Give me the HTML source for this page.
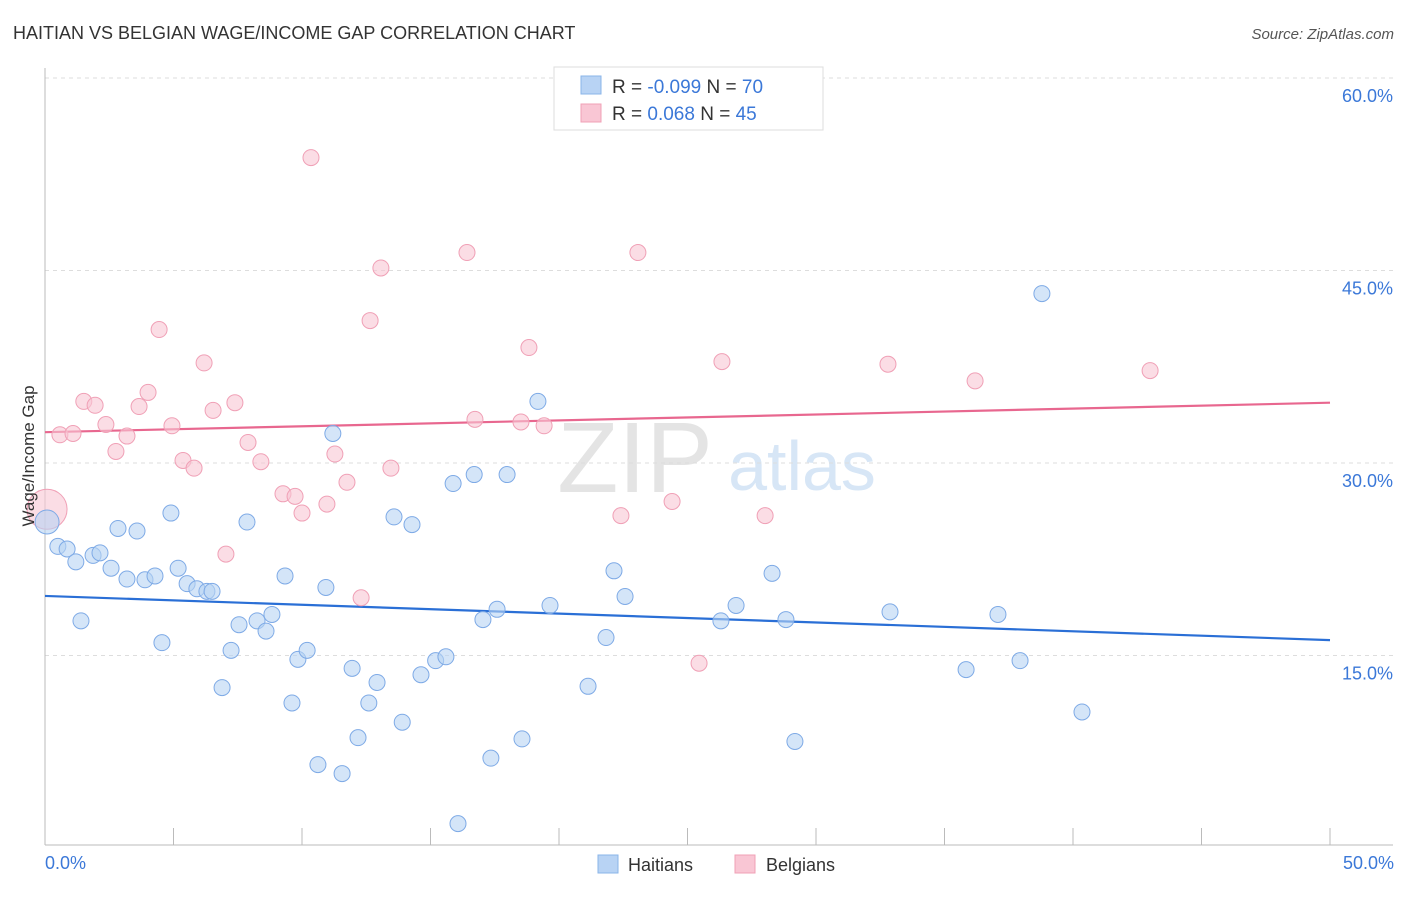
<!DOCTYPE html>
<html><head><meta charset="utf-8"><style>
body{margin:0;background:#fff;font-family:"Liberation Sans",sans-serif;}
svg text{font-family:"Liberation Sans",sans-serif;}
</style></head><body>
<svg id="chart" width="1406" height="892" viewBox="0 0 1406 892" xmlns="http://www.w3.org/2000/svg">
<text x="13" y="39" font-size="18" fill="#333">HAITIAN VS BELGIAN WAGE/INCOME GAP CORRELATION CHART</text>
<text x="1394" y="39" font-size="15" fill="#555" text-anchor="end" font-style="italic">Source: ZipAtlas.com</text>
<g>
<text x="635" y="492" font-size="100" fill="#e4e4e4" text-anchor="middle" font-family="Liberation Serif,serif">ZIP</text>
<text x="802" y="490" font-size="70" fill="#d7e6f6" text-anchor="middle">atlas</text>
</g>
<g id="grid"></g>
<g id="axes"></g>
<g id="trend"></g>
<g id="points"></g>
<text transform="translate(34,456) rotate(-90)" font-size="17" fill="#333" text-anchor="middle">Wage/Income Gap</text>
<text x="45" y="869" font-size="18" fill="#3b78d8">0.0%</text>
<text x="1394" y="869" font-size="18" fill="#3b78d8" text-anchor="end">50.0%</text>
<g>
<rect x="554" y="67" width="269" height="63" fill="#fff" stroke="#ddd"/>
<rect x="581" y="76" width="20" height="18" fill="#b8d3f4" stroke="#8ab4e8"/>
<rect x="581" y="104" width="20" height="18" fill="#f9c6d4" stroke="#f0a0b6"/>
<text x="612" y="93" font-size="19" fill="#333">R = <tspan fill="#3b78d8">-0.099</tspan>   N = <tspan fill="#3b78d8">70</tspan></text>
<text x="612" y="120" font-size="19" fill="#333">R =  <tspan fill="#3b78d8"> 0.068</tspan>   N = <tspan fill="#3b78d8">45</tspan></text>
</g>
<g>
<rect x="598" y="855" width="20" height="18" fill="#b8d3f4" stroke="#8ab4e8"/>
<text x="628" y="871" font-size="18" fill="#333">Haitians</text>
<rect x="735" y="855" width="20" height="18" fill="#f9c6d4" stroke="#f0a0b6"/>
<text x="766" y="871" font-size="18" fill="#333">Belgians</text>
</g>
</svg>
<script>
const yTicks=[15,30,45,60];
const yTickLabels=["15.0%","30.0%","45.0%","60.0%"];
const xTicks=[0,5,10,15,20,25,30,35,40,45,50];
const haitianX=[0.08,0.5,0.86,1.2,1.4,1.87,2.14,2.57,2.84,3.19,3.58,3.89,4.28,4.55,4.9,5.18,5.53,5.91,6.3,6.5,6.89,7.24,7.55,7.86,8.25,8.6,8.83,9.34,9.84,9.61,10.2,10.62,10.93,11.2,11.56,11.95,12.18,12.6,12.92,13.58,13.9,14.28,14.63,15.2,15.6,15.88,16.07,16.7,17.04,17.35,17.59,17.98,18.56,19.18,19.65,21.13,21.83,22.14,22.57,26.3,26.89,28.29,28.83,29.18,32.88,35.84,37.08,37.94,38.79,40.35];
const haitianY=[25.4,23.5,23.3,22.3,17.7,22.8,23.0,21.8,24.9,20.96,24.7,20.9,21.2,16.0,26.1,21.8,20.6,20.2,20.0,20.0,12.5,15.4,17.4,25.4,17.7,16.9,18.2,21.2,14.7,11.3,15.4,6.5,20.3,32.3,5.8,14.0,8.6,11.3,12.9,25.8,9.8,25.2,13.5,14.6,14.9,28.4,1.9,29.1,17.8,7.0,18.6,29.1,8.5,34.8,18.9,12.6,16.4,21.6,19.6,17.7,18.9,21.4,17.8,8.3,18.4,13.9,18.2,14.6,43.2,10.6];
const belgianX=[0.08,0.58,1.09,1.51,1.95,2.37,2.76,3.19,3.66,4.01,4.44,4.94,5.37,5.8,6.19,6.54,7.04,7.39,7.9,8.4,9.26,9.73,10.0,10.35,10.97,11.28,11.75,12.3,12.65,13.07,13.46,16.42,16.73,18.83,18.52,19.42,22.41,23.07,24.4,25.45,26.34,28.02,32.8,36.19,43.0];
const belgianY=[26.4,32.2,32.3,34.8,34.5,33.0,30.9,32.1,34.4,35.5,40.4,32.9,30.2,29.6,37.8,34.1,22.9,34.7,31.6,30.1,27.6,27.4,26.1,53.8,26.8,30.7,28.5,19.5,41.1,45.2,29.6,46.4,33.4,39.0,33.2,32.9,25.9,46.4,27.0,14.4,37.9,25.9,37.7,36.4,37.2];
const haitianTrend=[19.64,16.2];
const belgianTrend=[32.4,34.7];
const NS="http://www.w3.org/2000/svg";
const X0=45,X1=1330,Y0=848,PXPER=12.833;
function sx(v){return X0+(X1-X0)*v/50;}
function sy(v){return Y0-v*PXPER;}
function mk(tag,attrs,parent){const e=document.createElementNS(NS,tag);for(const k in attrs)e.setAttribute(k,attrs[k]);parent.appendChild(e);return e;}
const grid=document.getElementById('grid'),axes=document.getElementById('axes');
yTicks.forEach((t,i)=>{
 const l=mk('line',{x1:45,x2:1393,y1:sy(t),y2:sy(t),stroke:'#ddd','stroke-dasharray':'4,4'},grid);
 
 
 const tx=mk('text',{x:1393,y:sy(t)+24,'font-size':18,fill:'#3b78d8','text-anchor':'end'},axes);
 tx.textContent=yTickLabels[i];
 
 
});
const la=mk('line',{x1:45,x2:45,y1:68,y2:845,stroke:'#bbb'},axes);


const ba=mk('line',{x1:45,x2:1393,y1:845,y2:845,stroke:'#bbb'},axes);


xTicks.forEach(t=>{
 const l=mk('line',{x1:sx(t),x2:sx(t),y1:828,y2:845,stroke:'#bbb'},axes);
 
 
});
const pts=document.getElementById('points');
belgianX.forEach((x,i)=>{
 const c=mk('circle',{cx:sx(x),cy:sy(belgianY[i]),r:i===0?20:8,fill:'#f9c6d4','fill-opacity':0.6,stroke:'#f0a0b6','stroke-width':1},pts);
 
 
});
haitianX.forEach((x,i)=>{
 const c=mk('circle',{cx:sx(x),cy:sy(haitianY[i]),r:i===0?12:8,fill:'#b8d3f4','fill-opacity':0.6,stroke:'#7eaae6','stroke-width':1},pts);
 
 
});
const tr=document.getElementById('trend');
const hb=mk('line',{x1:sx(0),x2:sx(50),y1:sy(haitianTrend[0]),y2:sy(haitianTrend[1]),stroke:'#2a6fd6','stroke-width':2.2},tr);


const bb=mk('line',{x1:sx(0),x2:sx(50),y1:sy(belgianTrend[0]),y2:sy(belgianTrend[1]),stroke:'#e8678f','stroke-width':2.2},tr);


</script>
</body></html>
